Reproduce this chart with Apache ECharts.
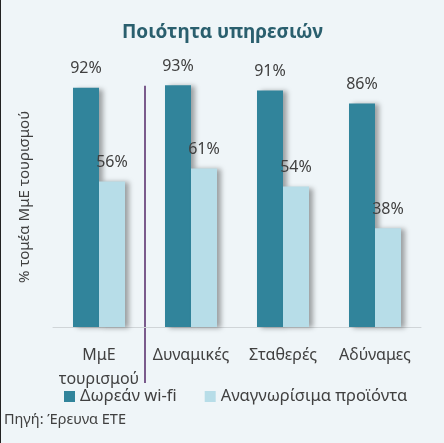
<!DOCTYPE html>
<html><head><meta charset="utf-8">
<script src="https://cdn.jsdelivr.net/npm/echarts@6/dist/echarts.min.js"></script>
<style>html,body{margin:0;padding:0;background:#eff5f8;}#c{width:444px;height:443px;box-sizing:border-box;border-left:1px solid #222;}</style>
</head><body><div id="c"></div>
<script>
const categories = ['ΜμΕ\nτουρισμού', 'Δυναμικές', 'Σταθερές', 'Αδύναμες'];
const wifi = [92, 93, 91, 86];
const products = [56, 61, 54, 38];
const seriesNames = ['Δωρεάν wi-fi', 'Αναγνωρίσιμα προϊόντα'];
const FONT = 'Noto Sans';
const chart = echarts.init(document.getElementById('c'));
const shadow = {shadowColor:'rgba(0,0,0,0.35)', shadowBlur:5, shadowOffsetX:4, shadowOffsetY:1};
const lbl = {show:true, position:'top', distance:11, formatter:'{c}%', color:'#404040', fontSize:16, fontFamily:FONT};
const src = {type:'text', left:3, top:412, style:{text:'Πηγή: Έρευνα ΕΤΕ', fill:'#404040', font:'14.5px "Noto Sans"'}};
chart.setOption({
  backgroundColor:'#eff5f8',
  animation:false,
  title:{text:'Ποιότητα υπηρεσιών', left:'center', top:18, textStyle:{color:'#2a5f6e', fontSize:19, fontWeight:'bold', fontFamily:FONT}},
  grid:{left:52, right:23, top:67, bottom:116},
  legend:{bottom:33, left:58, itemWidth:11, itemHeight:11, itemGap:28, icon:'rect',
    textStyle:{color:'#404040', fontSize:16.5, fontFamily:FONT}, data:seriesNames},
  graphic:[src],
  xAxis:{type:'category', data:categories,
    axisLine:{lineStyle:{color:'#d0d5d8'}}, axisTick:{show:false},
    axisLabel:{interval:0, color:'#404040', fontSize:16, fontFamily:FONT, margin:16, lineHeight:24}},
  yAxis:{type:'value', min:0, max:100, interval:20, show:true,
    axisLine:{show:false}, axisTick:{show:false}, axisLabel:{show:false}, splitLine:{show:false},
    name:'% τομέα ΜμΕ τουρισμού', nameLocation:'middle', nameGap:21, nameRotate:90,
    nameTextStyle:{color:'#404040', fontSize:15, fontFamily:FONT}},
  series:[
    {name:seriesNames[0], type:'bar', data:wifi, barWidth:26, barGap:'0%', itemStyle:Object.assign({color:'#31849b'}, shadow), label:lbl},
    {name:seriesNames[1], type:'bar', data:products, barWidth:26, itemStyle:Object.assign({color:'#b7dde8'}, shadow), label:lbl}
  ]
});
const p0 = chart.convertToPixel({xAxisIndex:0}, 0);
const p1 = chart.convertToPixel({xAxisIndex:0}, 1);
const xs = (p0 + p1) / 2;
const yTop = chart.convertToPixel({yAxisIndex:0}, 92) - 2;
chart.setOption({graphic:[src,
  {type:'line', shape:{x1:xs, y1:yTop, x2:xs, y2:383}, style:{stroke:'#7a5b8c', lineWidth:2}}]});
</script></body></html>
